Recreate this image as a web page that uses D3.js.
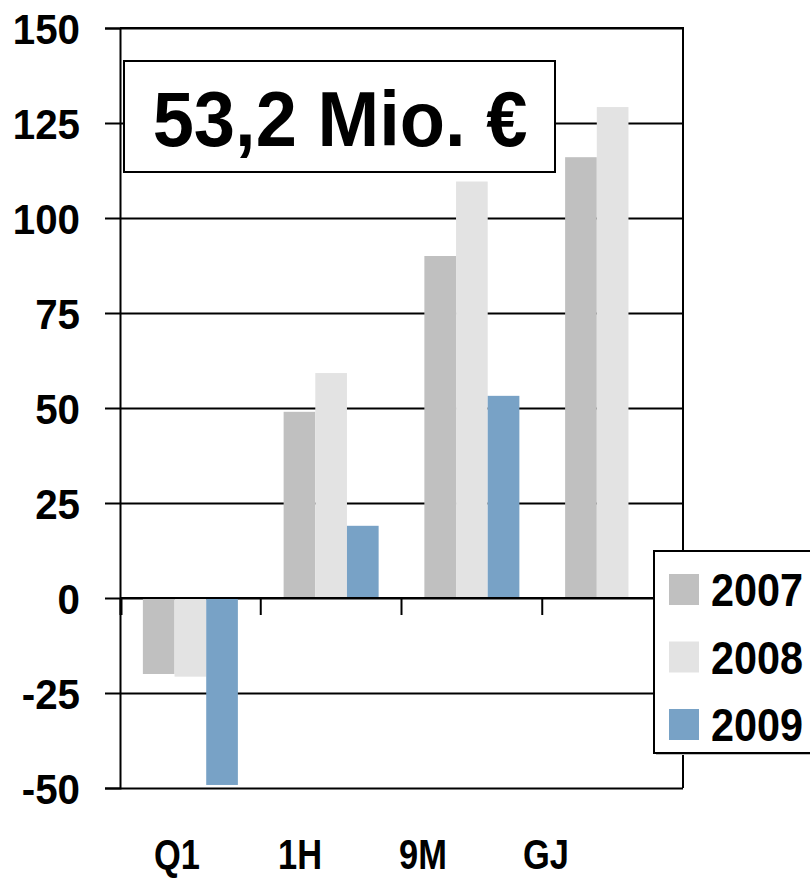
<!DOCTYPE html>
<html>
<head>
<meta charset="utf-8">
<script src="https://cdn.jsdelivr.net/npm/d3@7"></script>
<style>
  body { margin: 0; background: #fff; }
  svg { display: block; }
  text { font-family: "Liberation Sans", Arial, sans-serif; font-weight: bold; fill: #000; }
</style>
</head>
<body>
<div class="content-container"></div>
<script>
// data
var categories = ["Q1", "1H", "9M", "GJ"];
var years = ["2007", "2008", "2009"];
var values2007 = [-20, 49, 90, 116];
var values2008 = [-20.7, 59.2, 109.6, 129.2];
var values2009 = [-49.2, 19, 53.2, null];
var yTicks = [-50, -25, 0, 25, 50, 75, 100, 125, 150];
var highlight = "53,2 Mio. €";

var colors = { "2007": "#c0c0c0", "2008": "#e3e3e3", "2009": "#78a2c6" };
var seriesByYear = { "2007": values2007, "2008": values2008, "2009": values2009 };

const width = 810;
const height = 880;
const plotLeft = 120, plotRight = 683, plotTop = 28, plotBottom = 788;

const svg = d3.select(".content-container")
  .append("svg")
  .attr("width", width)
  .attr("height", height);

// SCALES
const yScale = d3.scaleLinear().domain([-50, 150]).range([plotBottom, plotTop]);

const x0 = d3.scaleBand()
  .domain(categories)
  .range([plotLeft, plotRight])
  .paddingInner(0.325)
  .paddingOuter(0.1625);

const x1 = d3.scaleBand()
  .domain(years)
  .range([0, x0.bandwidth()]);

// category labels sit a bit to the left of the groups in the original
const xLabel = d3.scalePoint().domain(categories).range([177, 546]);

// GRID
svg.append("g")
  .attr("transform", "translate(" + plotLeft + ",0)")
  .call(d3.axisLeft(yScale).tickValues(yTicks).tickSize(-(plotRight - plotLeft)).tickFormat(""))
  .call(g => g.select(".domain").remove())
  .call(g => g.selectAll("line").attr("stroke", "#000").attr("stroke-width", 2));

// BARS
var rows = [];
categories.forEach(function (c, i) {
  years.forEach(function (yr) {
    var v = seriesByYear[yr][i];
    if (v !== null) rows.push({ cat: c, year: yr, value: v });
  });
});

svg.selectAll("rect.bar")
  .data(rows)
  .enter()
  .append("rect")
  .attr("class", "bar")
  .attr("x", d => x0(d.cat) + x1(d.year))
  .attr("width", x1.bandwidth())
  .attr("y", d => yScale(Math.max(0, d.value)))
  .attr("height", d => Math.abs(yScale(d.value) - yScale(0)))
  .attr("fill", d => colors[d.year]);

// ZERO LINE with category boundary ticks
const zeroY = yScale(0);
svg.append("line")
  .attr("x1", plotLeft).attr("x2", plotRight)
  .attr("y1", zeroY).attr("y2", zeroY)
  .attr("stroke", "#000").attr("stroke-width", 2);

svg.selectAll("line.sep")
  .data(categories)
  .enter()
  .append("line")
  .attr("class", "sep")
  .attr("x1", (d, i) => plotLeft + i * x0.step() + (i === 0 ? 1 : 0))
  .attr("x2", (d, i) => plotLeft + i * x0.step() + (i === 0 ? 1 : 0))
  .attr("y1", zeroY)
  .attr("y2", zeroY + 17)
  .attr("stroke", "#000")
  .attr("stroke-width", (d, i) => i === 0 ? 3 : 2);

// FRAME (top and right)
svg.append("path")
  .attr("d", "M" + plotLeft + "," + plotTop + "H" + plotRight + "V" + plotBottom)
  .attr("fill", "none")
  .attr("stroke", "#000")
  .attr("stroke-width", 2);

// Y AXIS
const yAxis = svg.append("g")
  .attr("transform", "translate(" + plotLeft + ",0)")
  .call(d3.axisLeft(yScale).tickValues(yTicks).tickSize(15).tickPadding(0).tickFormat(d => String(d)));

yAxis.select(".domain").attr("stroke", "#000").attr("stroke-width", 2);
yAxis.selectAll(".tick line").attr("stroke", "#000").attr("stroke-width", 2);
yAxis.selectAll(".tick text")
  .attr("x", 0).attr("dy", null)
  .attr("y", 15)
  .attr("text-anchor", "end")
  .attr("font-size", "42px")
  .attr("fill", "#000")
  .attr("transform", "translate(-40,0) scale(0.96,1)");

// CATEGORY LABELS
svg.selectAll("text.cat")
  .data(categories)
  .enter()
  .append("text")
  .attr("class", "cat")
  .attr("text-anchor", "middle")
  .attr("font-size", "42px")
  .attr("transform", d => "translate(" + xLabel(d) + ",869) scale(0.82,1)")
  .text(d => d);

// HIGHLIGHT BOX
svg.append("rect")
  .attr("x", 124).attr("y", 61)
  .attr("width", 431).attr("height", 111)
  .attr("fill", "#fff")
  .attr("stroke", "#000")
  .attr("stroke-width", 2);

svg.append("text")
  .attr("text-anchor", "middle")
  .attr("font-size", "78px")
  .attr("transform", "translate(340,146) scale(0.95,1)")
  .text(highlight);

// LEGEND
const legend = svg.append("g").attr("transform", "translate(654,551)");

legend.append("rect")
  .attr("x", 2).attr("y", 2)
  .attr("width", 170).attr("height", 202)
  .attr("fill", "#bbb");

legend.append("rect")
  .attr("width", 170).attr("height", 202)
  .attr("fill", "#fff")
  .attr("stroke", "#000")
  .attr("stroke-width", 2);

const items = legend.selectAll("g.item")
  .data(years)
  .enter()
  .append("g")
  .attr("class", "item")
  .attr("transform", (d, i) => "translate(15," + (23 + i * 67.5) + ")");

items.append("rect")
  .attr("width", 30).attr("height", 31)
  .attr("fill", d => colors[d]);

items.append("text")
  .attr("font-size", "47px")
  .attr("transform", "translate(42,32) scale(0.88,1)")
  .text(d => d);
</script>
</body>
</html>
